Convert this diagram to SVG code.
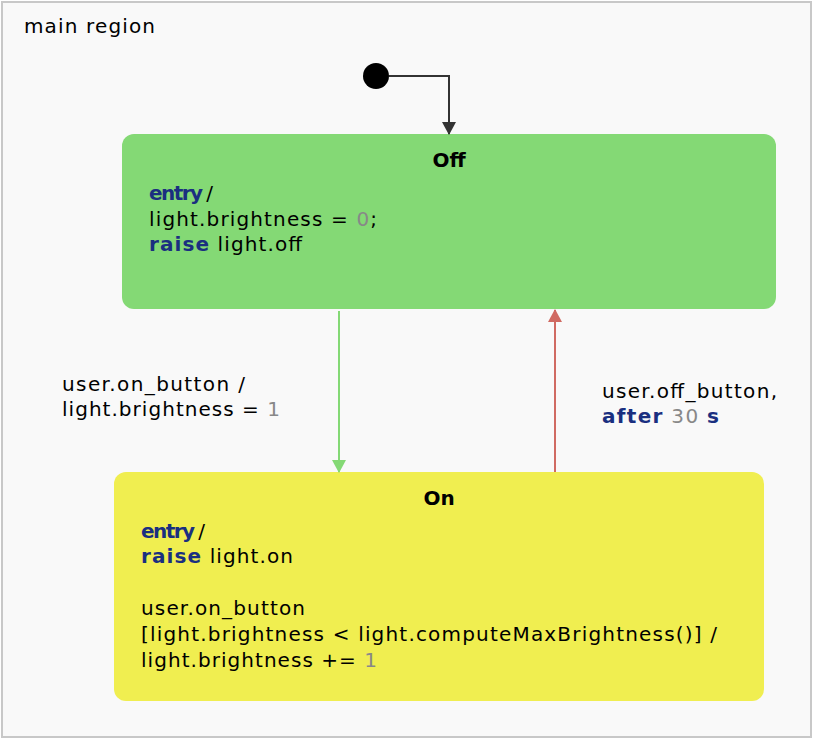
<svg xmlns="http://www.w3.org/2000/svg" width="814" height="740" viewBox="0 0 814 740">
<style>
text{font-family:"DejaVu Sans",Verdana,sans-serif;font-size:20px;fill:#000}
.kw{fill:#1a2f80;font-weight:bold}
.num{fill:#888}
.title{font-weight:bold;text-anchor:middle}
</style>
<defs>
<marker id="aDark" markerWidth="14" markerHeight="14" refX="12" refY="7" orient="auto" markerUnits="userSpaceOnUse"><path d="M0,0 L13,7 L0,14 z" fill="#333"/></marker>
<marker id="aGreen" markerWidth="14" markerHeight="14" refX="12" refY="7" orient="auto" markerUnits="userSpaceOnUse"><path d="M0,0 L13,7 L0,14 z" fill="#84d975"/></marker>
<marker id="aRed" markerWidth="14" markerHeight="14" refX="12" refY="7" orient="auto" markerUnits="userSpaceOnUse"><path d="M0,0 L13,7 L0,14 z" fill="#d06a62"/></marker>
</defs>
<rect x="2" y="2" width="809" height="735" fill="#f9f9f9" stroke="#c8c8c8" stroke-width="2"/>
<text x="24" y="33" textLength="131">main region</text>
<g id="initial"><circle cx="376" cy="76" r="13" fill="#000"/></g>
<g id="Off">
<rect x="122" y="134" width="654" height="175" rx="12" fill="#84d975"/>
<text class="title" x="449" y="167">Off</text>
<text x="149" y="200" textLength="64"><tspan class="kw">entry</tspan> /</text>
<text x="149" y="226" textLength="228">light.brightness = <tspan class="num">0</tspan>;</text>
<text x="149" y="251" textLength="153"><tspan class="kw">raise</tspan> light.off</text>
</g>
<g id="On">
<rect x="114" y="472" width="650" height="229" rx="12" fill="#f0ee50"/>
<text class="title" x="439" y="505">On</text>
<text x="141" y="538" textLength="64"><tspan class="kw">entry</tspan> /</text>
<text x="141" y="563" textLength="152"><tspan class="kw">raise</tspan> light.on</text>
<text x="141" y="615" textLength="164">user.on_button</text>
<text x="141" y="641" textLength="576">[light.brightness &lt; light.computeMaxBrightness()] /</text>
<text x="141" y="667" textLength="236">light.brightness += <tspan class="num">1</tspan></text>
</g>
<g id="connectors" fill="none" stroke-width="2">
<path d="M389,76 H449 V134" stroke="#333" marker-end="url(#aDark)"/>
<path d="M339,311 V472" stroke="#84d975" marker-end="url(#aGreen)"/>
<path d="M555,472 V310" stroke="#d06a62" marker-end="url(#aRed)"/>
</g>
<g id="labels">
<text x="62" y="391" textLength="183">user.on_button /</text>
<text x="62" y="416" textLength="218">light.brightness = <tspan class="num">1</tspan></text>
<text x="602" y="398" textLength="175">user.off_button,</text>
<text x="602" y="423" textLength="117"><tspan class="kw">after</tspan> <tspan class="num">30</tspan> <tspan class="kw">s</tspan></text>
</g>
</svg>
